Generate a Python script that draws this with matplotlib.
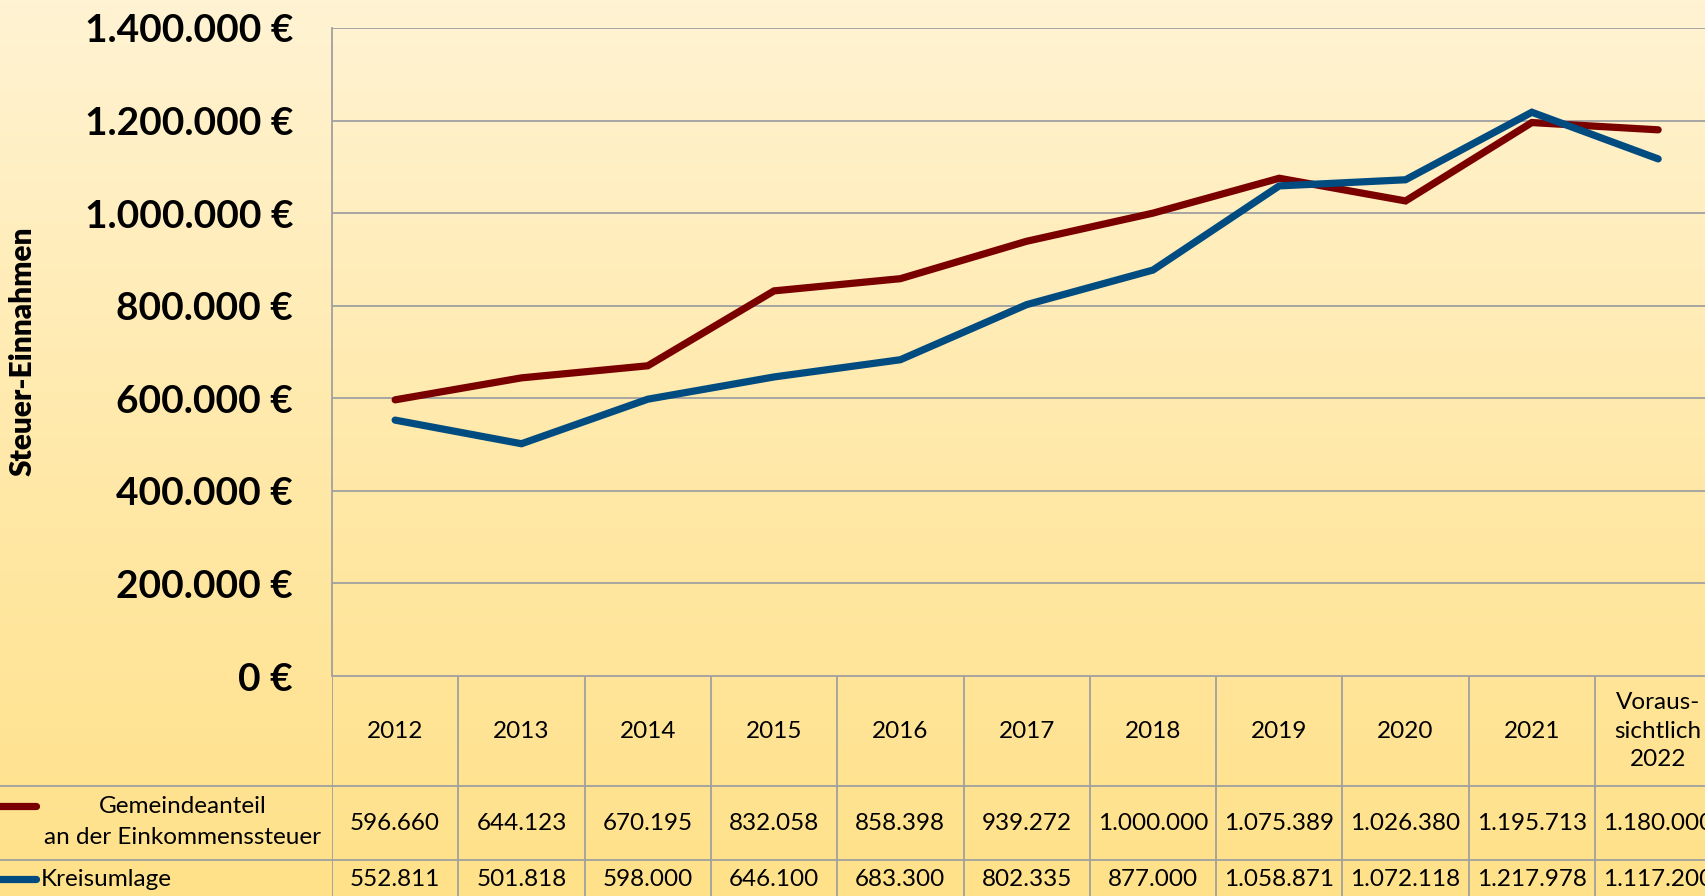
import numpy as np
import matplotlib
matplotlib.use("Agg")
from matplotlib import pyplot as plt
from matplotlib.colors import LinearSegmentedColormap

plt.rcParams['font.family'] = ['Lato', 'DejaVu Sans']

# data
years = ["2012", "2013", "2014", "2015", "2016", "2017", "2018", "2019",
         "2020", "2021", "Voraus-\nsichtlich\n2022"]
gemeinde = [596660, 644123, 670195, 832058, 858398, 939272, 1000000,
            1075389, 1026380, 1195713, 1180000]
kreis = [552811, 501818, 598000, 646100, 683300, 802335, 877000,
         1058871, 1072118, 1217978, 1117200]
series_names = ["Gemeindeanteil\nan der Einkommenssteuer", "Kreisumlage"]

red = '#7a0000'
blue = '#004b80'
grid_col = '#a0a0a0'

W, H = 1706, 896
fig = plt.figure(figsize=(W / 100, H / 100), dpi=100)

# background gradient
bg = fig.add_axes([0, 0, 1, 1], zorder=0)
cmap = LinearSegmentedColormap.from_list('bg', ['#fff3d3', '#ffe9aa', '#ffe189'])
bg.imshow(np.linspace(0, 1, 256).reshape(-1, 1), aspect='auto', cmap=cmap,
          extent=[0, 1, 0, 1], origin='upper')
bg.axis('off')

# pixel layout
left_px = 332
col_w = 126.3
top_px = 28
zero_px = 676
tab_bottom_px = 898
n = len(years)

ax = fig.add_axes([left_px / W, 1 - zero_px / H, n * col_w / W, (zero_px - top_px) / H], zorder=2)
ax.set_facecolor('none')
x = np.arange(n)
ax.plot(x, gemeinde, color=red, lw=5.2, solid_capstyle='round', solid_joinstyle='miter', zorder=3)
ax.plot(x, kreis, color=blue, lw=5.2, solid_capstyle='round', solid_joinstyle='miter', zorder=4)
ax.set_xlim(-0.5, n - 0.5)
ax.set_ylim(0, 1400000)
ticks = np.arange(0, 1400001, 200000)
ax.set_yticks(ticks)
ax.set_yticklabels([f"{int(t):,} €".replace(",", ".") for t in ticks],
                   fontsize=28, fontweight='bold')
ax.tick_params(axis='y', length=0, pad=28)
ax.set_xticks([])
ax.grid(axis='y', color=grid_col, lw=1.3)
for s in ['top', 'right', 'bottom']:
    ax.spines[s].set_visible(False)
ax.spines['left'].set_color(grid_col)
ax.spines['left'].set_linewidth(1.3)

# table below the plot
th = tab_bottom_px - zero_px
tab = fig.add_axes([left_px / W, 1 - tab_bottom_px / H, n * col_w / W, th / H], zorder=2)
tab.set_facecolor('none')
tab.set_xlim(-0.5, n - 0.5)
tab.set_ylim(th, 0)
tab.axis('off')
row1, row2 = 110, 184
tab.hlines([0, row1, row2], -0.5, n - 0.5, color=grid_col, lw=1.3)
tab.vlines(np.arange(n + 1) - 0.5, 0, th, color=grid_col, lw=1.3)
for i, y in enumerate(years):
    tab.text(i, 55, y, ha='center', va='center', fontsize=17.5, linespacing=1.45)
    tab.text(i, 147, f"{gemeinde[i]:,}".replace(",", "."), ha='center', va='center', fontsize=17.5)
    tab.text(i, 203, f"{kreis[i]:,}".replace(",", "."), ha='center', va='center', fontsize=17.5)

# row labels with legend keys
lab = fig.add_axes([0, 1 - tab_bottom_px / H, left_px / W, th / H], zorder=2)
lab.set_facecolor('none')
lab.set_xlim(0, left_px)
lab.set_ylim(th, 0)
lab.axis('off')
lab.hlines([row1, row2], 0, left_px, color=grid_col, lw=1.3)
lab.plot([-10, 36], [130, 130], color=red, lw=5.2, solid_capstyle='round', clip_on=False)
lab.plot([-10, 36], [203, 203], color=blue, lw=5.2, solid_capstyle='round', clip_on=False)
lab.text(183, 146, series_names[0], ha='center', va='center', fontsize=17.5, linespacing=1.55)
lab.text(41, 203, series_names[1], ha='left', va='center', fontsize=17.5)

fig.text(23 / W, 1 - 351 / H, "Steuer-Einnahmen", rotation=90, ha='center', va='center',
         fontsize=21.5, fontweight='heavy')

fig.savefig("out.png", dpi=100)
